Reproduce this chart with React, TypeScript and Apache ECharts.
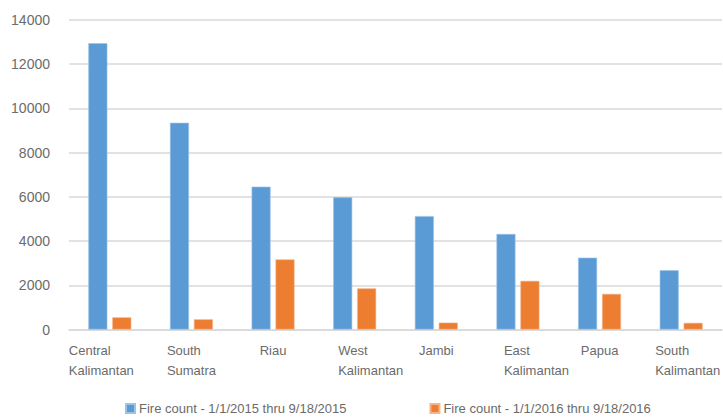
import React, { useEffect, useRef } from "react";
import * as echarts from "echarts";

const categories = [
  "Central Kalimantan",
  "South Sumatra",
  "Riau",
  "West Kalimantan",
  "Jambi",
  "East Kalimantan",
  "Papua",
  "South Kalimantan",
];
const series2015 = [12950, 9350, 6460, 5980, 5130, 4320, 3250, 2680];
const series2016 = [550, 460, 3170, 1860, 310, 2200, 1610, 300];
const seriesNames = [
  "Fire count - 1/1/2015 thru 9/18/2015",
  "Fire count - 1/1/2016 thru 9/18/2016",
];
const yTicks = { min: 0, max: 14000, interval: 2000 };

// rich style key per category label (controls a small horizontal nudge)
const labelStyleKey = ["cl", "c", "c", "wk", "c", "ek", "c", "sk"];

const FONT = '"Liberation Sans", Arial, sans-serif';
const TEXT = "#6b6b6b";
const LBL = { align: "left", fontSize: 13, lineHeight: 20, color: TEXT, fontFamily: FONT };

export default function App() {
  const ref = useRef<HTMLDivElement>(null);
  useEffect(() => {
    if (!ref.current) return;
    const chart = echarts.init(ref.current, undefined, { renderer: "svg" });
    chart.setOption({
      animation: false,
      backgroundColor: "#ffffff",
      textStyle: { fontFamily: FONT },
      grid: { left: 69, right: 1, top: 20, bottom: 87.5, outerBoundsMode: "none" },
      legend: {
        left: 125,
        top: 402,
        padding: 0,
        itemWidth: 9,
        itemHeight: 9,
        itemGap: 83,
        icon: "rect",
        textStyle: { color: TEXT, fontSize: 13, fontFamily: FONT, padding: [0, 0, 0, -1] },
        data: seriesNames,
      },
      xAxis: {
        type: "category",
        data: categories,
        axisLine: { show: true, lineStyle: { color: "#d9d9d9", width: 1.5 } },
        axisTick: { show: false },
        axisLabel: {
          interval: 0,
          margin: 11,
          color: TEXT,
          fontSize: 13,
          fontFamily: FONT,
          formatter: (v: string, i: number) => {
            const k = labelStyleKey[i] || "c";
            return v
              .split(" ")
              .map((w) => `{${k}|${w}}`)
              .join("\n");
          },
          rich: {
            c: { ...LBL },
            cl: { ...LBL, padding: [0, 17, 0, 0] },
            wk: { ...LBL, padding: [0, 0, 0, 32] },
            ek: { ...LBL, padding: [0, 0, 0, 37] },
            sk: { ...LBL, padding: [0, 0, 0, 13] },
          },
        },
      },
      yAxis: {
        type: "value",
        min: yTicks.min,
        max: yTicks.max,
        interval: yTicks.interval,
        axisLine: { show: false },
        axisTick: { show: false },
        axisLabel: {
          color: TEXT,
          fontSize: 14,
          margin: 19,
          fontFamily: FONT,
          formatter: (v: number) => String(v),
        },
        splitLine: { lineStyle: { color: "#d9d9d9", width: 1.5 } },
      },
      series: [
        {
          name: seriesNames[0],
          type: "bar",
          data: series2015,
          barWidth: 19,
          barGap: "26%",
          itemStyle: { color: "#5b9bd5", borderColor: "#9cc3e8", borderWidth: 0.6 },
        },
        {
          name: seriesNames[1],
          type: "bar",
          data: series2016,
          barWidth: 19,
          itemStyle: { color: "#ed7d31", borderColor: "#f5b48a", borderWidth: 0.6 },
        },
      ],
    });
    return () => chart.dispose();
  }, []);
  return (
    <div
      ref={ref}
      style={{ position: "fixed", left: 0, top: 0, width: 723, height: 417 }}
    />
  );
}
